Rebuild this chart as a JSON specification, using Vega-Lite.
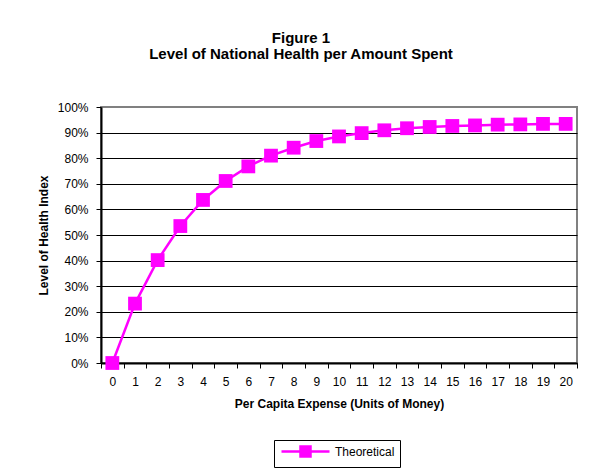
{
  "$schema": "https://vega.github.io/schema/vega-lite/v6.json",
  "width": 476,
  "height": 256,
  "autosize": {"type": "none"},
  "padding": {"left": 101, "top": 107, "right": 17, "bottom": 106},
  "background": "white",
  "title": {
    "text": ["Figure 1", "Level of National Health per Amount Spent"],
    "anchor": "middle",
    "frame": "group",
    "dx": -38,
    "offset": 39,
    "font": "Liberation Sans",
    "fontSize": 15,
    "fontWeight": "bold",
    "lineHeight": 16,
    "color": "black"
  },
  "data": {
    "values": [
      {"expense": 0, "health": 0.0, "series": "Theoretical"},
      {"expense": 1, "health": 0.232, "series": "Theoretical"},
      {"expense": 2, "health": 0.402, "series": "Theoretical"},
      {"expense": 3, "health": 0.535, "series": "Theoretical"},
      {"expense": 4, "health": 0.637, "series": "Theoretical"},
      {"expense": 5, "health": 0.711, "series": "Theoretical"},
      {"expense": 6, "health": 0.768, "series": "Theoretical"},
      {"expense": 7, "health": 0.810, "series": "Theoretical"},
      {"expense": 8, "health": 0.841, "series": "Theoretical"},
      {"expense": 9, "health": 0.867, "series": "Theoretical"},
      {"expense": 10, "health": 0.885, "series": "Theoretical"},
      {"expense": 11, "health": 0.898, "series": "Theoretical"},
      {"expense": 12, "health": 0.909, "series": "Theoretical"},
      {"expense": 13, "health": 0.917, "series": "Theoretical"},
      {"expense": 14, "health": 0.922, "series": "Theoretical"},
      {"expense": 15, "health": 0.926, "series": "Theoretical"},
      {"expense": 16, "health": 0.928, "series": "Theoretical"},
      {"expense": 17, "health": 0.931, "series": "Theoretical"},
      {"expense": 18, "health": 0.932, "series": "Theoretical"},
      {"expense": 19, "health": 0.934, "series": "Theoretical"},
      {"expense": 20, "health": 0.934, "series": "Theoretical"}
    ]
  },
  "mark": {
    "type": "line",
    "strokeWidth": 2.5,
    "point": {"shape": "square", "size": 190, "filled": true, "color": "#FF00FF"}
  },
  "encoding": {
    "x": {
      "field": "expense",
      "type": "ordinal",
      "sort": null,
      "scale": {"type": "band", "paddingInner": 0, "paddingOuter": 0},
      "axis": {
        "title": "Per Capita Expense (Units of Money)",
        "labelAngle": 0,
        "tickBand": "extent",
        "tickSize": 5,
        "labelPadding": 8,
        "titlePadding": 11,
        "grid": false
      }
    },
    "y": {
      "field": "health",
      "type": "quantitative",
      "scale": {"domain": [0, 1], "nice": false},
      "axis": {
        "title": "Level of Health Index",
        "format": ".0%",
        "values": [0, 0.1, 0.2, 0.3, 0.4, 0.5, 0.6, 0.7, 0.8, 0.9, 1],
        "tickSize": 5,
        "labelPadding": 8,
        "titlePadding": 7,
        "grid": true,
        "gridColor": {"condition": {"test": "datum.value === 1", "value": "#808080"}, "value": "#000000"}
      }
    },
    "color": {
      "field": "series",
      "type": "nominal",
      "scale": {"range": ["#FF00FF"]},
      "legend": {
        "title": null,
        "orient": "none",
        "legendX": 173,
        "legendY": 333,
        "padding": 5,
        "strokeColor": "#000000",
        "fillColor": "#FFFFFF",
        "symbolType": "M-4.8,0H4.8M-1,-1H1V1H-1Z",
        "symbolSize": 100,
        "symbolOffset": 20,
        "symbolStrokeWidth": 2.5,
        "symbolFillColor": "#FF00FF",
        "symbolStrokeColor": "#FF00FF",
        "labelOffset": 23,
        "labelFont": "Liberation Sans",
        "labelFontSize": 12,
        "labelColor": "#000000"
      }
    }
  },
  "config": {
    "view": {"stroke": "#808080", "strokeWidth": 2},
    "axis": {
      "labelFont": "Liberation Sans",
      "labelFontSize": 12,
      "labelColor": "#000000",
      "titleFont": "Liberation Sans",
      "titleFontSize": 12,
      "titleFontWeight": "bold",
      "titleColor": "#000000",
      "domainColor": "#000000",
      "domainWidth": 2,
      "tickColor": "#000000",
      "tickWidth": 1,
      "gridWidth": 1
    }
  }
}
